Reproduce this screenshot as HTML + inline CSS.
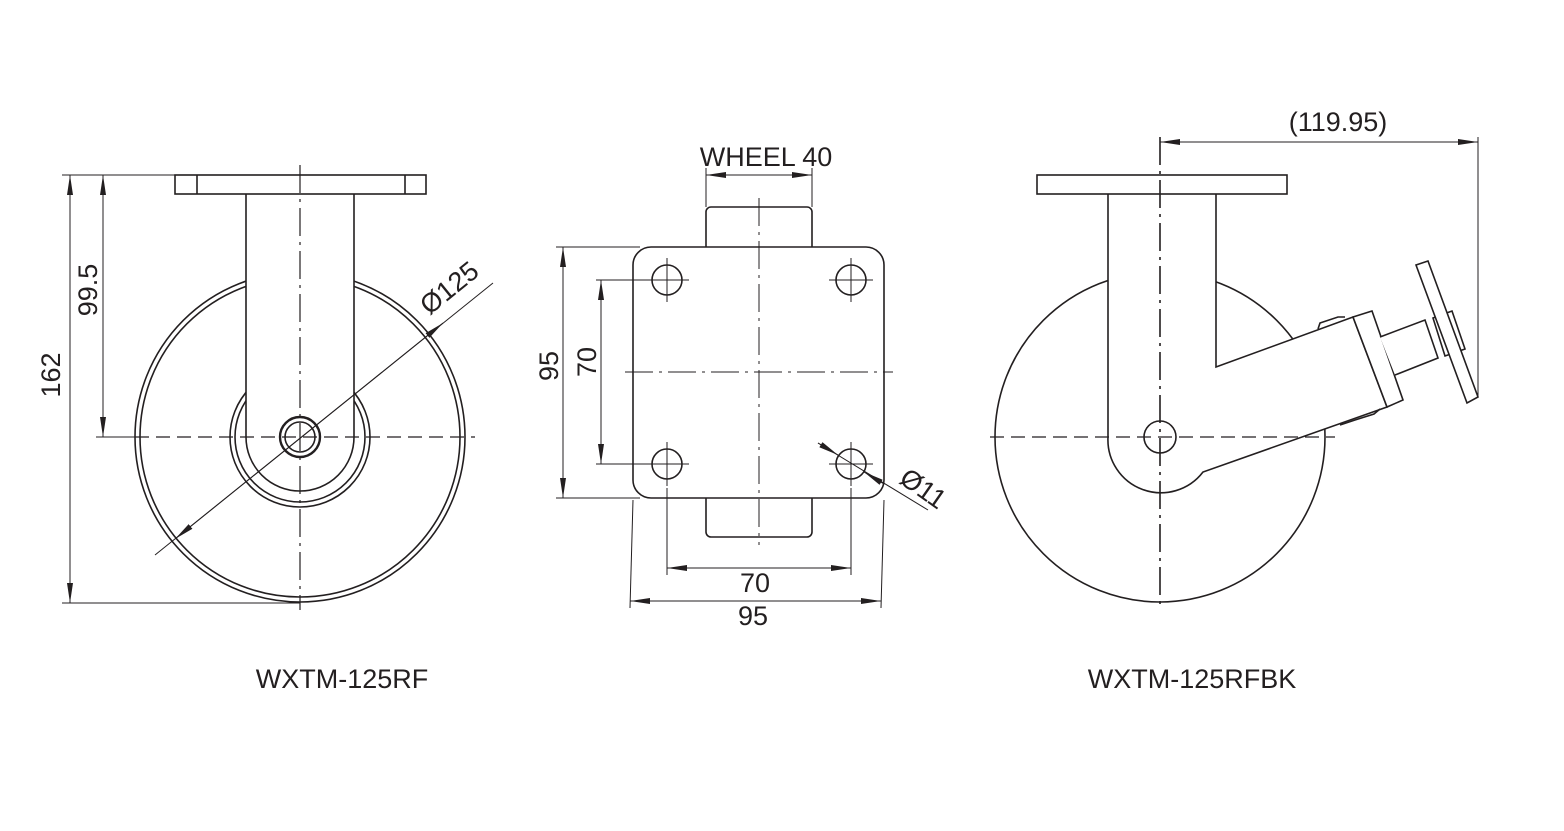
<!DOCTYPE html>
<html><head><meta charset="utf-8"><style>
html,body{margin:0;padding:0;background:#fff;}
svg{display:block;}
text{font-family:"Liberation Sans",sans-serif;fill:#231f20;}
</style></head><body>
<svg width="1564" height="831" viewBox="0 0 1564 831" xmlns="http://www.w3.org/2000/svg">
<defs>
<marker id="a" viewBox="0 0 20 8" refX="20" refY="4" markerWidth="20" markerHeight="8" markerUnits="userSpaceOnUse" orient="auto-start-reverse"><path d="M0,1 L20,4 L0,7 Z" fill="#231f20"/></marker>
</defs>
<g stroke="#231f20" stroke-width="1.6" fill="none">
<!-- LEFT VIEW -->
<circle cx="300" cy="437" r="165"/>
<circle cx="300" cy="437" r="160"/>
<circle cx="300" cy="437" r="70" />
<circle cx="300" cy="437" r="65" />
<path d="M246,194 V437 A54,54 0 0 0 354,437 V194" fill="#fff"/>
<rect x="175" y="175" width="251" height="19" fill="#fff"/>
<line x1="197" y1="175" x2="197" y2="194"/><line x1="405" y1="175" x2="405" y2="194"/>
<circle cx="300" cy="437" r="20" stroke-width="2.4" fill="#fff"/>
<circle cx="300" cy="437" r="15"/>
<line x1="300" y1="165" x2="300" y2="610" stroke-width="1.2" stroke-dasharray="28,6,3,6"/>
<line x1="135" y1="437" x2="475" y2="437" stroke-width="1.2" stroke-dasharray="14,7"/>
<!-- dims left -->
<line x1="62" y1="175" x2="175" y2="175" stroke-width="1"/>
<line x1="62" y1="603" x2="300" y2="603" stroke-width="1"/>
<line x1="96" y1="437" x2="140" y2="437" stroke-width="1"/>
<line x1="70" y1="175" x2="70" y2="603" stroke-width="1" marker-start="url(#a)" marker-end="url(#a)"/>
<line x1="103" y1="175" x2="103" y2="437" stroke-width="1" marker-start="url(#a)" marker-end="url(#a)"/>
<line x1="155" y1="555" x2="493" y2="283" stroke-width="1"/>
<line x1="175" y1="539" x2="443" y2="323" stroke-width="1" marker-start="url(#a)" marker-end="url(#a)"/>

<!-- MIDDLE VIEW -->
<rect x="706" y="207" width="106" height="60" rx="5"/>
<rect x="706" y="477" width="106" height="60" rx="5"/>
<rect x="633" y="247" width="251" height="251" rx="18" fill="#fff"/>
<g stroke-width="1.6">
<circle cx="667" cy="280" r="15"/><circle cx="851" cy="280" r="15"/>
<circle cx="667" cy="464" r="15"/><circle cx="851" cy="464" r="15"/>
</g>
<g stroke-width="1">
<path d="M645,280H689M667,258V302M829,280H873M851,258V302M645,464H689M667,442V486M829,464H873M851,442V486"/>
</g>
<line x1="759" y1="198" x2="759" y2="545" stroke-width="1" stroke-dasharray="28,6,3,6"/>
<line x1="625" y1="372" x2="893" y2="372" stroke-width="1" stroke-dasharray="28,6,3,6"/>
<g stroke-width="1">
<line x1="706" y1="168" x2="706" y2="207"/><line x1="812" y1="168" x2="812" y2="207"/>
<line x1="706" y1="175" x2="812" y2="175" marker-start="url(#a)" marker-end="url(#a)"/>
<line x1="556" y1="247" x2="640" y2="247"/><line x1="556" y1="498" x2="640" y2="498"/>
<line x1="563" y1="247" x2="563" y2="498" marker-start="url(#a)" marker-end="url(#a)"/>
<line x1="596" y1="280" x2="645" y2="280"/><line x1="596" y1="464" x2="645" y2="464"/>
<line x1="601" y1="280" x2="601" y2="464" marker-start="url(#a)" marker-end="url(#a)"/>
<line x1="667" y1="488" x2="667" y2="575"/><line x1="851" y1="488" x2="851" y2="575"/>
<line x1="667" y1="568" x2="851" y2="568" marker-start="url(#a)" marker-end="url(#a)"/>
<line x1="633" y1="500" x2="630" y2="608"/><line x1="884" y1="500" x2="881" y2="608"/>
<line x1="630" y1="601" x2="881" y2="601" marker-start="url(#a)" marker-end="url(#a)"/>
<line x1="818" y1="443" x2="928" y2="510"/>
<line x1="818" y1="443" x2="838" y2="455" marker-end="url(#a)"/>
<line x1="884" y1="484" x2="864" y2="472" marker-end="url(#a)"/>
</g>

<!-- RIGHT VIEW -->
<circle cx="1160" cy="437" r="165"/>
<path d="M1108,194 V437 A53,53 0 0 0 1203,472 L1387,407 L1353,317 L1216,367 V194" fill="#fff"/>
<rect x="1037" y="175" width="250" height="19" fill="#fff"/>
<path d="M1353,317 L1372,311 L1403,400 L1387,407 Z" fill="#fff"/>
<path d="M1318,329 L1320,323 L1338,317 L1345,317 M1340,425 L1355,420 L1374,414 L1380,409"/>
<path d="M1380,337 L1425,320 L1438,358 L1395,375" fill="#fff"/>
<path d="M1433,318 L1452,311 L1465,349 L1445,356 Z" fill="#fff"/>
<path d="M1416,265 L1428,261 L1478,397 L1467,403 Z" fill="#fff"/>
<circle cx="1160" cy="437" r="16" fill="#fff"/>
<line x1="1160" y1="137" x2="1160" y2="610" stroke-width="1.6" stroke-dasharray="28,6,3,6"/>
<line x1="990" y1="437" x2="1335" y2="437" stroke-width="1.2" stroke-dasharray="14,7"/>
<g stroke-width="1">
<line x1="1478" y1="137" x2="1478" y2="397"/>
<line x1="1160" y1="142" x2="1478" y2="142" marker-start="url(#a)" marker-end="url(#a)"/>
</g>
</g>
<g font-size="27">
<text x="60" y="375" transform="rotate(-90 60 375)" text-anchor="middle" dy="0">162</text>
<text x="97" y="290" transform="rotate(-90 97 290)" text-anchor="middle">99.5</text>
<text x="455" y="295" transform="rotate(-39 455 295)" text-anchor="middle">Ø125</text>
<text x="766" y="166" text-anchor="middle">WHEEL 40</text>
<text x="558" y="366" transform="rotate(-90 558 366)" text-anchor="middle">95</text>
<text x="596" y="362" transform="rotate(-90 596 362)" text-anchor="middle">70</text>
<text x="755" y="592" text-anchor="middle">70</text>
<text x="753" y="625" text-anchor="middle">95</text>
<text x="918" y="496" transform="rotate(35 918 496)" text-anchor="middle">Ø11</text>
<text x="1338" y="131" text-anchor="middle">(119.95)</text>
<text x="342" y="688" text-anchor="middle">WXTM-125RF</text>
<text x="1192" y="688" text-anchor="middle">WXTM-125RFBK</text>
</g>
</svg>
</body></html>
